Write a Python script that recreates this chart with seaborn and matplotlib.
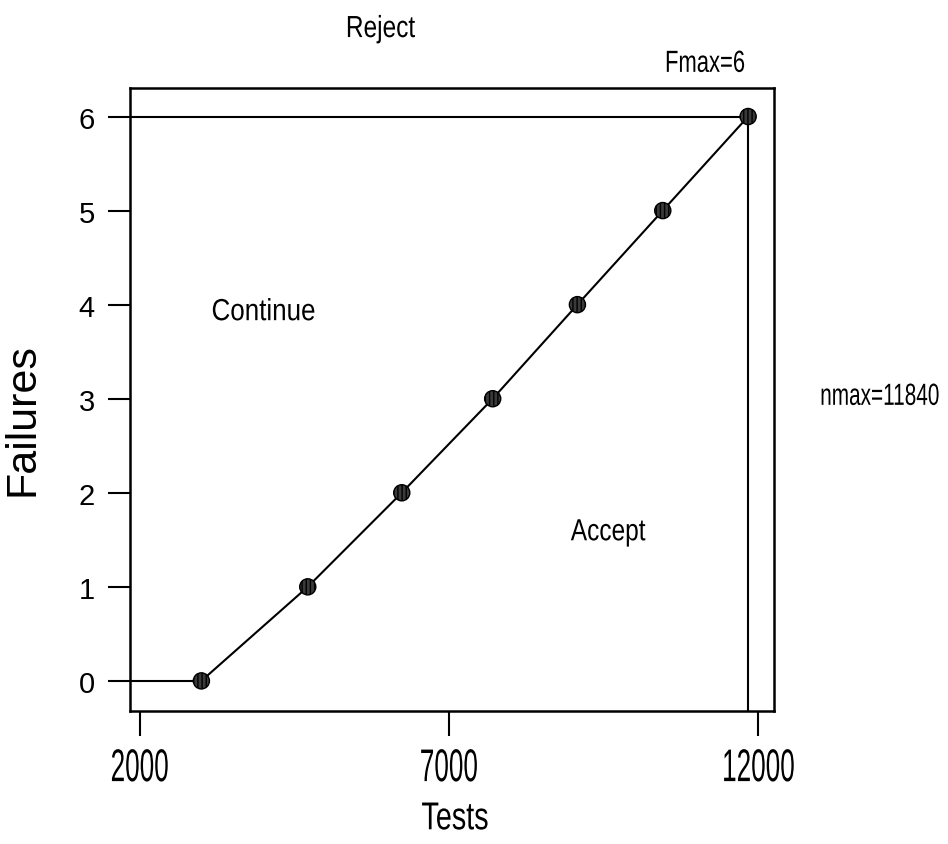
import matplotlib
matplotlib.use('Agg')
import matplotlib.pyplot as plt
import seaborn as sns
from matplotlib.patheffects import AbstractPathEffect
from matplotlib.transforms import Affine2D

# sequential test boundary: test count at which each failure count is reached
tests = [3000, 4720, 6240, 7710, 9080, 10460, 11840]
failures = [0, 1, 2, 3, 4, 5, 6]
nmax = 11840
fmax = 6
x_ticks = [2000, 7000, 12000]
y_ticks = [0, 1, 2, 3, 4, 5, 6]


class Squeeze(AbstractPathEffect):
    # narrow the text horizontally (condensed look), keeping centre or right edge
    def __init__(self, sx, keep='center'):
        super().__init__()
        self.sx = sx
        self.keep = keep

    def draw_path(self, renderer, gc, tpath, affine, rgbFace=None):
        ext = tpath.get_extents()
        cx = ext.x1 if self.keep == 'right' else (ext.x0 + ext.x1) / 2
        sq = Affine2D().translate(-cx, 0).scale(self.sx, 1).translate(cx, 0)
        renderer.draw_path(gc, tpath, sq + affine, rgbFace)


sns.set_theme(style='ticks')
plt.rcParams['font.family'] = ['Liberation Sans', 'DejaVu Sans']
plt.rcParams['text.color'] = 'black'
plt.rcParams['axes.labelcolor'] = 'black'
plt.rcParams['xtick.labelcolor'] = 'black'
plt.rcParams['ytick.labelcolor'] = 'black'

fig = plt.figure(figsize=(9.48, 8.45), dpi=100)
ax = fig.add_axes([0.1368, 0.1574, 0.6797, 0.7369])

xmin, xmax = 1841, 12259
ax.set_xlim(xmin, xmax)
ax.set_ylim(-0.32, 6.30)

# boundary lines
ax.plot([xmin, tests[0]], [0, 0], color='black', lw=1.5)
ax.plot([xmin, nmax], [fmax, fmax], color='black', lw=1.5)
ax.plot([nmax, nmax], [fmax, -0.32], color='black', lw=1.5)
sns.lineplot(x=tests, y=failures, color='black', lw=1.5, ax=ax)
sns.scatterplot(x=tests, y=failures, marker='o', s=135, color='#3a3a3a',
                edgecolor='black', linewidth=1.0, hatch='||||', zorder=3, ax=ax)

ax.set_xticks(x_ticks)
ax.set_yticks(y_ticks)
ax.tick_params(axis='x', direction='out', length=18, width=1.5, pad=8,
               labelsize=33, color='black', labelcolor='black')
ax.tick_params(axis='y', direction='out', length=16, width=1.5, pad=9,
               labelsize=21, color='black', labelcolor='black')
for lab in ax.get_xticklabels():
    lab.set_path_effects([Squeeze(0.57)])

for side in ['left', 'right', 'top', 'bottom']:
    ax.spines[side].set_visible(True)
    ax.spines[side].set_color('black')
    ax.spines[side].set_linewidth(1.8)

ax.set_xlabel('Tests', fontsize=28, path_effects=[Squeeze(0.74)])
ax.xaxis.set_label_coords(0.505, -0.145)
ax.set_ylabel('Failures', fontsize=31)
ax.yaxis.set_label_coords(-0.135, 0.469)

txt = dict(fontsize=22, va='center', clip_on=False, color='black')
ax.text(5890, 6.93, 'Reject', ha='center', path_effects=[Squeeze(0.8)], **txt)
ax.text(11140, 6.56, 'Fmax=6', ha='center', path_effects=[Squeeze(0.72)], **txt)
ax.text(4000, 3.92, 'Continue', ha='center', path_effects=[Squeeze(0.85)], **txt)
ax.text(9575, 1.58, 'Accept', ha='center', path_effects=[Squeeze(0.8)], **txt)
ax.text(14940, 3.02, 'nmax=11840', ha='right',
        path_effects=[Squeeze(0.68, keep='right')], **txt)

fig.savefig('out.png', dpi=100)
